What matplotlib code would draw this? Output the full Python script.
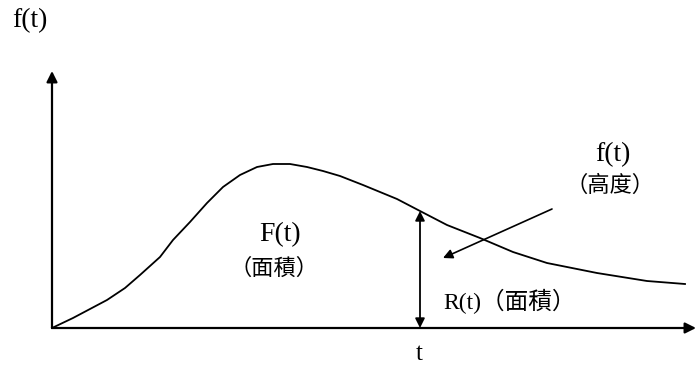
import matplotlib
matplotlib.use("Agg")
import matplotlib.pyplot as plt

# curve f(t) (t from the origin, f above the t axis)
t_vals = [0, 21, 38, 55, 73, 88, 98, 108, 121, 138, 155, 171, 188, 205, 221,
          238, 255, 271, 288, 311, 328, 345, 368, 395, 428, 461, 495, 545,
          595, 633]
f_vals = [0, 10, 19, 28, 40, 53, 62, 71, 88, 106, 125, 141, 153, 161, 164,
          164, 161, 157, 152, 143, 136, 129, 117, 103, 90, 76, 65, 55,
          47, 44]

t_mark = 368          # position of the cut at t
t_end = 644           # end of the t axis
f_end = 257           # top of the f axis

latin = ['Liberation Serif', 'Noto Sans CJK TC']
cjk = ['Noto Sans CJK TC', 'Liberation Serif']

fig = plt.figure(figsize=(6.96, 3.67), dpi=100)
ax = fig.add_axes([0, 0, 1, 1])
ax.set_xlim(-52, 644)
ax.set_ylim(-39, 328)
ax.axis('off')

# axes with arrows
ax.annotate('', xy=(0, f_end), xytext=(0, 0),
            arrowprops=dict(arrowstyle='-|>', color='black', lw=1.6,
                            mutation_scale=16, shrinkA=0, shrinkB=0))
ax.annotate('', xy=(t_end, 0), xytext=(0, 0),
            arrowprops=dict(arrowstyle='-|>', color='black', lw=1.6,
                            mutation_scale=16, shrinkA=0, shrinkB=0))

ax.plot(t_vals, f_vals, color='black', lw=1.3, solid_joinstyle='round')

# double arrow for the height f(t)
f_at_mark = f_vals[t_vals.index(t_mark)]
ax.annotate('', xy=(t_mark, f_at_mark), xytext=(t_mark, 0),
            arrowprops=dict(arrowstyle='<|-|>', color='black', lw=1.3,
                            mutation_scale=14, shrinkA=0, shrinkB=0))

# pointer arrow from the label
ax.annotate('', xy=(391, 70), xytext=(500, 119),
            arrowprops=dict(arrowstyle='-|>', color='black', lw=1.2,
                            mutation_scale=14, shrinkA=0, shrinkB=0))

fs = 20
fc = 16
ax.text(-22, 307, 'f(t)', fontsize=fs, family=latin, ha='center', va='center')
ax.text(228, 93, 'F(t)', fontsize=fs, family=latin, ha='center', va='center')
ax.text(222, 60, '（面積）', fontsize=fc, family=cjk, ha='center', va='center')
ax.text(561, 173, 'f(t)', fontsize=fs, family=latin, ha='center', va='center')
ax.text(558, 143, '（高度）', fontsize=fc, family=cjk, ha='center', va='center')
ax.text(391, 27, 'R(t)（面積）', fontsize=17, family=latin, ha='left', va='center')
ax.text(367, -32, 't', fontsize=18, family=latin, ha='center', va='baseline')

fig.savefig('out.png', dpi=100)
